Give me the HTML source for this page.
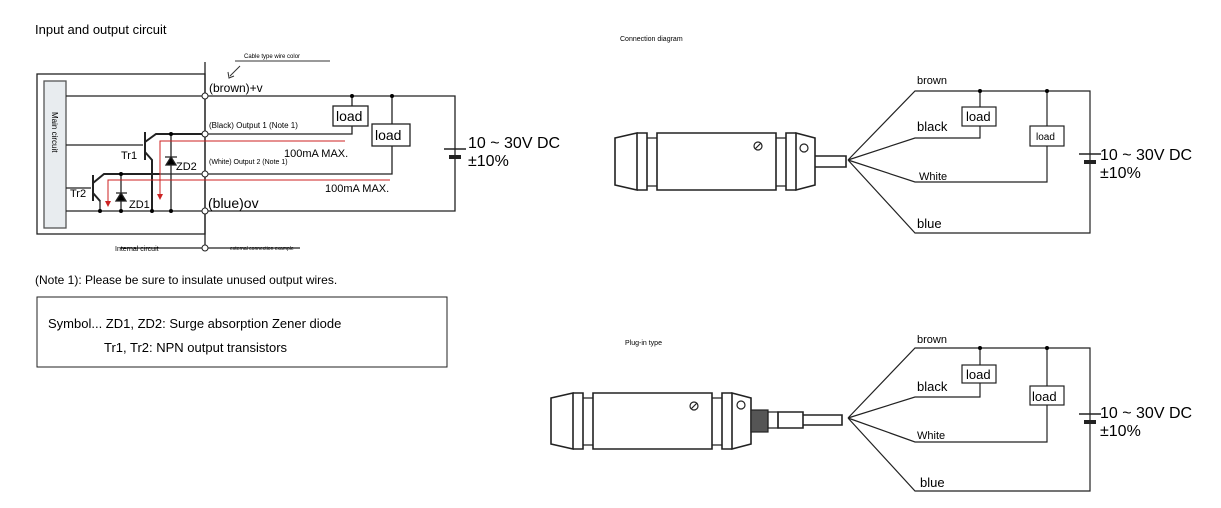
<!DOCTYPE html>
<html><head><style>body{margin:0;background:#fff}svg{display:block}text{font-family:"Liberation Sans",sans-serif}</style></head><body>
<svg width="1221" height="508" viewBox="0 0 1221 508" xmlns="http://www.w3.org/2000/svg">
<g fill="none" stroke="#222" stroke-width="1.3">
<rect x="37" y="74" width="168" height="160"/>
<rect x="44" y="81" width="22" height="147" fill="#e8ecef" stroke="#555"/>
<path d="M66 96H455V211H66M205 134H352V126M352 106V96M205 174H392V146M392 124V96"/>
<path d="M66 145H143M66 188H91M205 62V248"/>
<rect x="333" y="106" width="35" height="20" fill="#fff"/>
<rect x="372" y="124" width="38" height="22" fill="#fff"/>
<path d="M145 132V160M145 142L156 134H205M145 152L152 160V211" stroke-width="2"/>
<path d="M171 134V211M121 174V211M157 174H205M100 200V211"/>
<path d="M93 175V201M93 183L104 174H160M93 193L100 201" stroke-width="2"/>
<path d="M165 157H177M171 157L166 165H176Z M116 193H127M121 193L116 201H126Z" fill="#000"/>
<path d="M444 149H466" stroke-width="1.5"/><path d="M449 157H461" stroke-width="4"/>
<path d="M120 248H300"/>
</g>
<circle cx="205" cy="96" r="3" fill="#fff" stroke="#222"/><circle cx="205" cy="134" r="3" fill="#fff" stroke="#222"/><circle cx="205" cy="174" r="3" fill="#fff" stroke="#222"/><circle cx="205" cy="211" r="3" fill="#fff" stroke="#222"/><circle cx="205" cy="248" r="3" fill="#fff" stroke="#222"/>
<circle cx="352" cy="96" r="2" fill="#000"/><circle cx="392" cy="96" r="2" fill="#000"/><circle cx="171" cy="134" r="2" fill="#000"/><circle cx="121" cy="174" r="2" fill="#000"/>
<circle cx="100" cy="211" r="2" fill="#000"/><circle cx="121" cy="211" r="2" fill="#000"/><circle cx="152" cy="211" r="2" fill="#000"/><circle cx="171" cy="211" r="2" fill="#000"/>
<path d="M160 195V141H345M108 202V180H390" fill="none" stroke="#c22" stroke-width="1"/>
<path d="M157 194L160 200L163 194ZM105 201L108 207L111 201Z" fill="#c22"/>
<path d="M240 66L230 76M228 72L229 78L234 76M235 61H330" fill="none" stroke="#333"/>
<text x="35" y="34" font-size="13">Input and output circuit</text>
<text x="244" y="58" font-size="6">Cable type wire color</text>
<text x="209" y="92" font-size="12">(brown)+v</text>
<text x="209" y="128" font-size="8">(Black) Output 1 (Note 1)</text>
<text x="209" y="164" font-size="7">(White) Output 2 (Note 1)</text>
<text x="208" y="208" font-size="14">(blue)ov</text>
<text x="284" y="157" font-size="11">100mA MAX.</text>
<text x="325" y="192" font-size="11">100mA MAX.</text>
<text x="336" y="121" font-size="14">load</text>
<text x="375" y="140" font-size="14">load</text>
<text x="121" y="159" font-size="11">Tr1</text><text x="70" y="197" font-size="11">Tr2</text>
<text x="176" y="170" font-size="11">ZD2</text><text x="129" y="208" font-size="11">ZD1</text>
<text x="115" y="251" font-size="7">Internal circuit</text>
<text x="230" y="250" font-size="5">external connection example</text>
<text x="52" y="112" font-size="8" transform="rotate(90 52 112)">Main circuit</text>
<text x="468" y="148" font-size="16">10 ~ 30V DC</text><text x="468" y="166" font-size="16">±10%</text>
<text x="35" y="284" font-size="12">(Note 1): Please be sure to insulate unused output wires.</text>
<rect x="37" y="297" width="410" height="70" fill="none" stroke="#222"/>
<text x="48" y="328" font-size="13">Symbol... ZD1, ZD2: Surge absorption Zener diode</text>
<text x="104" y="352" font-size="13">Tr1, Tr2: NPN output transistors</text>
<text x="620" y="41" font-size="7">Connection diagram</text>
<g fill="none" stroke="#222" stroke-width="1.2">
<path d="M848 160L915 91H1090V233H915L848 160M848 160L915 138H980V126M980 107V91M848 160L915 182H1047V146M1047 126V91"/>
<rect x="962" y="107" width="34" height="19" fill="#fff"/><rect x="1030" y="126" width="34" height="20" fill="#fff"/>
<path d="M1079 154H1101" stroke-width="1.5"/><path d="M1084 162H1096" stroke-width="4"/>
<path d="M615 138L637 133V190L615 185Z M637 133H647V190H637Z M657 133H776V190H657Z M786 133H796V190H786Z M796 133L815 138V185L796 190Z M815 156H846V167H815Z" fill="#fff" stroke-width="1.6"/>
<path d="M647 138H657M647 186H657M776 138H786M776 186H786"/>
<circle cx="758" cy="146" r="4"/><path d="M755 149L761 143"/><circle cx="804" cy="148" r="4"/>
</g>
<circle cx="980" cy="91" r="2" fill="#000"/><circle cx="1047" cy="91" r="2" fill="#000"/>
<text x="917" y="84" font-size="11">brown</text><text x="917" y="131" font-size="13">black</text><text x="919" y="180" font-size="11">White</text><text x="917" y="228" font-size="13">blue</text>
<text x="966" y="121" font-size="13">load</text><text x="1036" y="140" font-size="10">load</text>
<text x="1100" y="160" font-size="16">10 ~ 30V DC</text><text x="1100" y="178" font-size="16">±10%</text>
<text x="625" y="345" font-size="7">Plug-in type</text>
<g fill="none" stroke="#222" stroke-width="1.2">
<path d="M848 418L915 348H1090V491H915L848 418M848 418L915 397H980V383M980 365V348M848 418L915 442H1047V405M1047 386V348"/>
<rect x="962" y="365" width="34" height="18" fill="#fff"/><rect x="1030" y="386" width="34" height="19" fill="#fff"/>
<path d="M1079 414H1101" stroke-width="1.5"/><path d="M1084 422H1096" stroke-width="4"/>
<path d="M551 398L573 393V449L551 444Z M573 393H583V449H573Z M593 393H712V449H593Z M722 393H732V449H722Z M732 393L751 398V444L732 449Z M778 412H803V428H778Z M803 415H842V425H803Z" fill="#fff" stroke-width="1.6"/>
<rect x="751" y="410" width="17" height="22" fill="#555"/><path d="M768 412H778V428H768Z"/>
<path d="M583 398H593M583 445H593M712 398H722M712 445H722"/>
<circle cx="694" cy="406" r="4"/><path d="M691 409L697 403"/><circle cx="741" cy="405" r="4"/>
</g>
<circle cx="980" cy="348" r="2" fill="#000"/><circle cx="1047" cy="348" r="2" fill="#000"/>
<text x="917" y="343" font-size="11">brown</text><text x="917" y="391" font-size="13">black</text><text x="917" y="439" font-size="11">White</text><text x="920" y="487" font-size="13">blue</text>
<text x="966" y="379" font-size="13">load</text><text x="1032" y="401" font-size="13">load</text>
<text x="1100" y="418" font-size="16">10 ~ 30V DC</text><text x="1100" y="436" font-size="16">±10%</text>
</svg>
</body></html>
